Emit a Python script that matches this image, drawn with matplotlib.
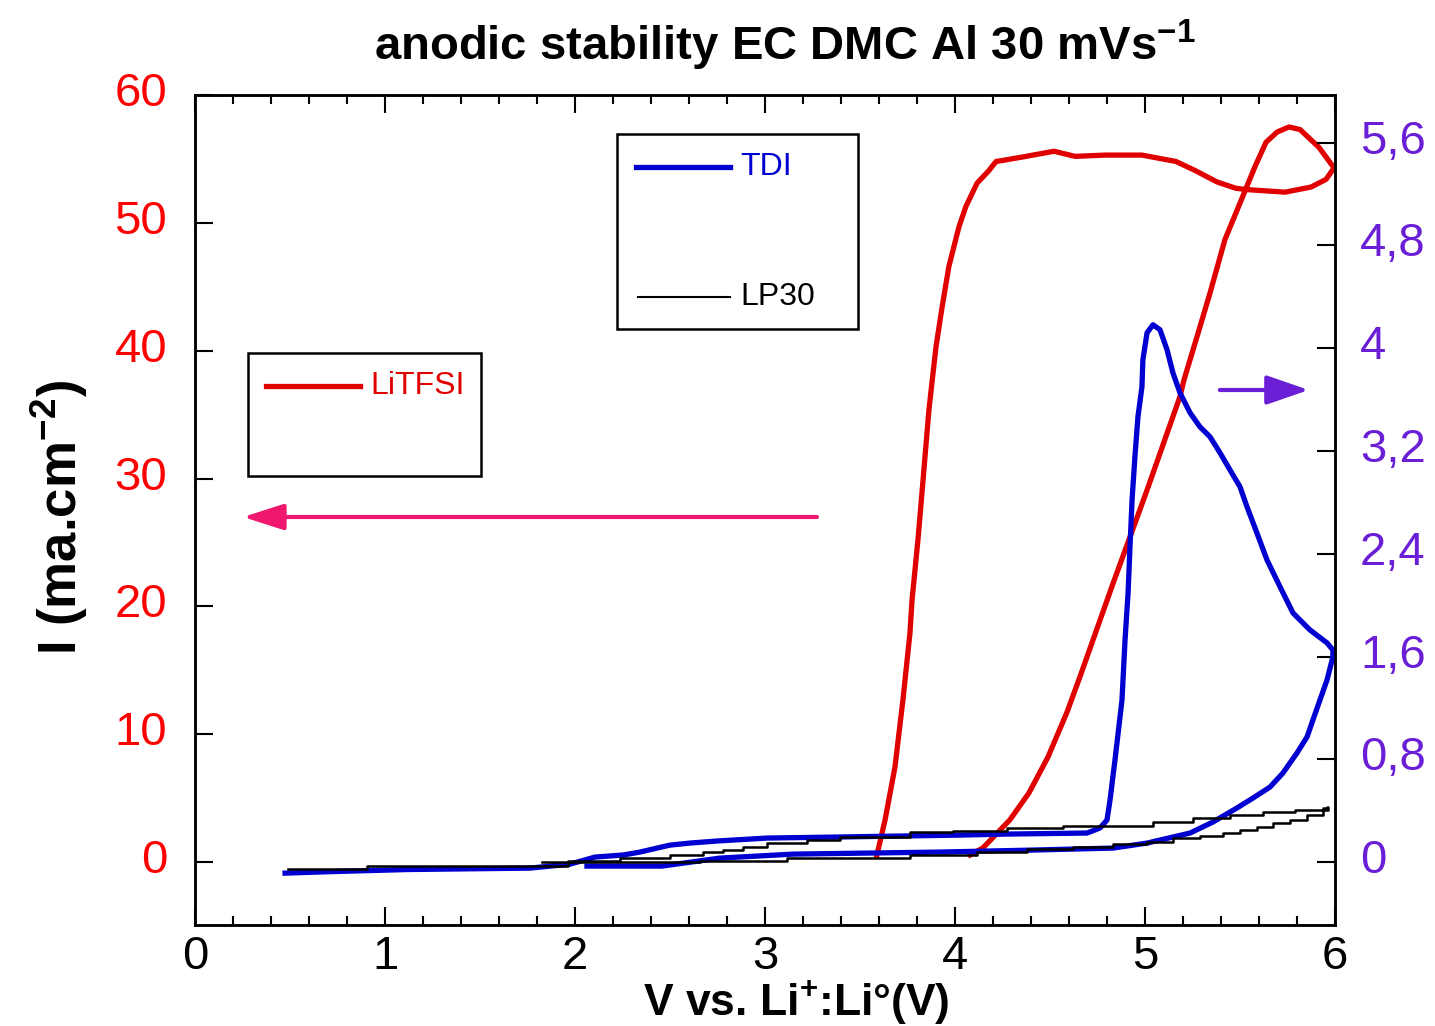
import matplotlib
matplotlib.use('Agg')
import matplotlib.pyplot as plt
from matplotlib.ticker import MultipleLocator
from matplotlib.patches import Rectangle
from matplotlib.transforms import ScaledTranslation


plt.rcParams['font.family'] = ['Liberation Sans', 'DejaVu Sans']
plt.rcParams['mathtext.fontset'] = 'custom'
plt.rcParams['mathtext.rm'] = 'Liberation Sans'
plt.rcParams['mathtext.bf'] = 'Liberation Sans:bold'

# LiTFSI, left axis (mA/cm2), forward then reverse scan
litfsi_v = [3.589, 3.632, 3.684, 3.726, 3.763, 3.774, 3.805, 3.832, 3.863, 3.900,
            3.932, 3.968, 4.021, 4.058, 4.116, 4.179, 4.216, 4.258, 4.374, 4.521,
            4.632, 4.789, 4.984, 5.163, 5.263, 5.379, 5.479, 5.537, 5.737, 5.874,
            5.953, 5.995,
            5.916, 5.816, 5.758, 5.695, 5.637, 5.579, 5.521, 5.421, 5.342, 5.284,
            5.205, 5.184, 5.011, 4.832, 4.658, 4.589, 4.489, 4.389, 4.289, 4.147,
            4.080]
litfsi_i = [0.55, 3.29, 7.43, 12.68, 17.92, 20.5, 25.2, 29.9, 35.4, 40.3,
            43.4, 46.6, 49.7, 51.3, 53.1, 54.1, 54.8, 54.9, 55.2, 55.6,
            55.2, 55.3, 55.3, 54.8, 54.1, 53.2, 52.7, 52.6, 52.4, 52.8,
            53.4, 54.3,
            55.9, 57.3, 57.5, 57.1, 56.3, 54.4, 52.3, 48.7, 44.5, 41.6,
            37.7, 36.4, 29.1, 21.8, 14.5, 11.7, 8.2, 5.4, 3.3, 1.1,
            0.55]

# TDI, right axis
tdi_v = [0.474, 0.726, 1.116, 1.763, 1.974, 2.105, 2.253, 2.342, 2.432, 2.500,
         2.605, 2.747, 3.011, 3.379, 4.026, 4.274, 4.695, 4.763, 4.800, 4.816,
         4.842, 4.879, 4.895, 4.911, 4.921, 4.932, 4.947, 4.963, 4.984, 4.989,
         5.011, 5.042, 5.079, 5.116, 5.147, 5.184, 5.237, 5.289, 5.342, 5.395,
         5.447, 5.500, 5.537, 5.589, 5.642, 5.711, 5.779, 5.868, 5.958, 5.989,
         5.989, 5.958, 5.921, 5.884, 5.853, 5.800, 5.726, 5.658, 5.568, 5.484,
         5.358, 5.237, 5.011, 4.832, 4.395, 3.921, 3.147, 2.763, 2.458, 2.063]
tdi_i = [-0.086, -0.074, -0.058, -0.047, -0.016, 0.039, 0.055, 0.078, 0.109, 0.132,
         0.148, 0.164, 0.187, 0.195, 0.210, 0.218, 0.226, 0.265, 0.327, 0.483,
         0.794, 1.262, 1.729, 2.095, 2.453, 2.819, 3.154, 3.466, 3.699, 3.910,
         4.120, 4.182, 4.143, 3.988, 3.808, 3.653, 3.497, 3.388, 3.310, 3.185,
         3.053, 2.921, 2.765, 2.562, 2.352, 2.142, 1.939, 1.807, 1.706, 1.651,
         1.597, 1.417, 1.262, 1.106, 0.974, 0.849, 0.693, 0.584, 0.498, 0.421,
         0.312, 0.226, 0.148, 0.109, 0.093, 0.078, 0.062, 0.031, -0.031, -0.031]

# LP30, right axis (stair-stepped trace)
lp30_v = [0.489, 0.905, 1.963, 2.237, 2.500, 2.674, 2.779, 2.884, 3.011, 3.221,
          3.395, 3.763, 3.989, 4.274, 4.568, 5.042, 5.253, 5.447, 5.621, 5.789,
          5.963,
          5.958, 5.937, 5.853, 5.763, 5.674, 5.589, 5.500, 5.411, 5.289, 5.147,
          5.011, 4.832, 4.621, 4.379, 4.116, 3.763, 3.116, 2.658, 1.826]
lp30_i = [-0.052, -0.031, 0.008, 0.031, 0.055, 0.078, 0.094, 0.117, 0.148, 0.172,
          0.195, 0.234, 0.242, 0.266, 0.281, 0.313, 0.344, 0.367, 0.391, 0.406,
          0.430,
          0.422, 0.367, 0.328, 0.305, 0.273, 0.250, 0.227, 0.203, 0.188, 0.156,
          0.141, 0.117, 0.102, 0.078, 0.055, 0.031, 0.008, 0.000, 0.000]

left_ticks = [0, 10, 20, 30, 40, 50, 60]
right_ticks = [0, 0.8, 1.6, 2.4, 3.2, 4.0, 4.8, 5.6]
right_labels = ['0', '0,8', '1,6', '2,4', '3,2', '4', '4,8', '5,6']

red = '#e00000'
blue = '#0000d0'
purple = '#6a1fd6'
pink = '#f0186e'

fig = plt.figure(figsize=(14.35, 10.26), dpi=100)
ax = fig.add_axes([0.1359, 0.0984, 0.7944, 0.8090])
ax2 = ax.twinx()

ax.plot(litfsi_v, litfsi_i, color=red, lw=3.8)
ax2.plot(tdi_v, tdi_i, color=blue, lw=3.8)
ax2.plot(lp30_v, lp30_i, color='k', lw=1.8, drawstyle='steps-post')

ax.set_xlim(0, 6)
ax.set_ylim(-4.93, 60)
ax2.set_ylim(-0.49, 5.97)

ax.xaxis.set_major_locator(MultipleLocator(1))
ax.xaxis.set_minor_locator(MultipleLocator(0.2))
ax.set_yticks(left_ticks)
ax.set_yticklabels([str(t) for t in left_ticks])
ax2.set_yticks(right_ticks)
ax2.set_yticklabels(right_labels)

ax.tick_params(axis='x', which='major', direction='in', top=True, length=13,
               width=1.5, labelsize=34, pad=7)
ax.tick_params(axis='x', which='minor', direction='in', top=True, length=6.5,
               width=1.5)
ax.tick_params(axis='y', direction='in', right=False, length=13, width=1.5,
               labelsize=34, labelcolor='#ff0000', pad=20)
ax2.tick_params(axis='y', direction='in', length=13, width=1.5,
                labelsize=34, labelcolor=purple, pad=18)
for a in (ax, ax2):
    for s in a.spines.values():
        s.set_linewidth(1.8)

# y tick labels sit a little above their ticks in the original
lift = ScaledTranslation(0, 6 / 100, fig.dpi_scale_trans)
for lab in ax.get_yticklabels() + ax2.get_yticklabels():
    lab.set_transform(lab.get_transform() + lift)

# legend boxes drawn by hand, like the original
ax.add_patch(Rectangle((0.370, 0.718), 0.212, 0.235, transform=ax.transAxes,
                       fill=False, lw=1.8, ec='k', zorder=5))
ax.plot([0.387, 0.469], [0.913, 0.913], transform=ax.transAxes, color=blue, lw=3.8)
ax.text(0.478, 0.913, 'TDI', transform=ax.transAxes, color=blue, fontsize=23,
        va='center', ha='left')
ax.plot([0.389, 0.469], [0.757, 0.757], transform=ax.transAxes, color='k', lw=1.5)
ax.text(0.478, 0.757, 'LP30', transform=ax.transAxes, color='k', fontsize=23,
        va='center', ha='left')

ax.add_patch(Rectangle((0.0465, 0.541), 0.2045, 0.148, transform=ax.transAxes,
                       fill=False, lw=1.8, ec='k', zorder=5))
ax.plot([0.0623, 0.1447], [0.649, 0.649], transform=ax.transAxes, color=red, lw=3.8)
ax.text(0.154, 0.649, 'LiTFSI', transform=ax.transAxes, color=red, fontsize=23,
        va='center', ha='left')

# axis arrows
ax.annotate('', xy=(0.0421, 0.4916), xytext=(0.5456, 0.4916),
            xycoords='axes fraction',
            arrowprops=dict(arrowstyle='-|>,head_length=1.25,head_width=0.4',
                            mutation_scale=20, color=pink, lw=3,
                            shrinkA=0, shrinkB=0))
ax.annotate('', xy=(0.977, 0.6446), xytext=(0.899, 0.6446),
            xycoords='axes fraction',
            arrowprops=dict(arrowstyle='-|>,head_length=1.3,head_width=0.45',
                            mutation_scale=20, color=purple, lw=3,
                            shrinkA=0, shrinkB=0))

fig.text(0.547, 0.956, r'anodic stability EC DMC Al 30 mVs$^{\mathbf{-1}}$',
         ha='center', va='center', fontsize=34, fontweight='bold')
fig.text(0.555, 0.010, r'V vs. Li$^{\mathbf{+}}$:Li°(V)',
         ha='center', va='baseline', fontsize=32, fontweight='bold')
fig.text(0.041, 0.496, r'I (ma.cm$^{\mathbf{-2}}$)', rotation=90,
         ha='center', va='center', fontsize=38, fontweight='bold')

fig.savefig('out.png', dpi=100)
